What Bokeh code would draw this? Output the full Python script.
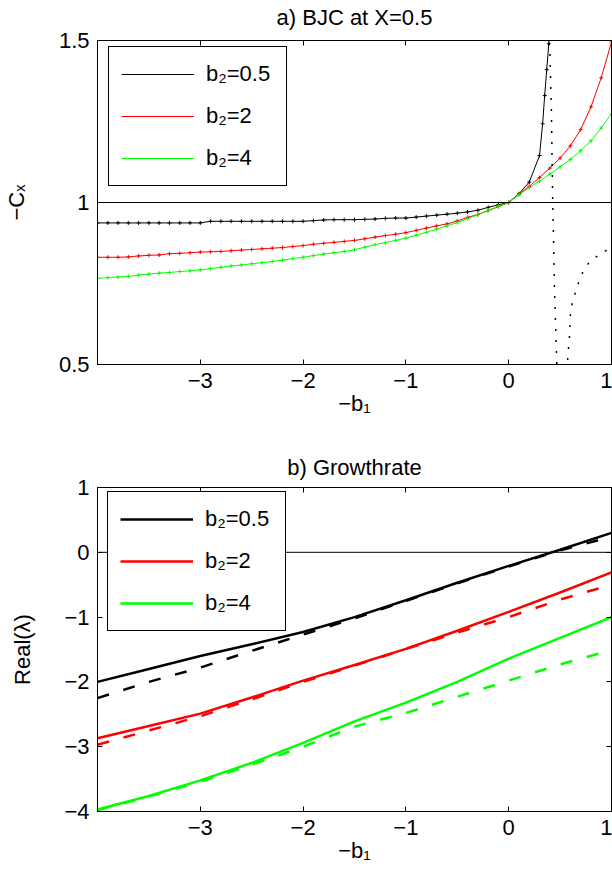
from bokeh.plotting import figure
from bokeh.layouts import column
from bokeh.models import (Range1d, LinearAxis, FixedTicker, Span, Legend,
                          LegendItem)
from bokeh.embed import file_html
from bokeh.resources import INLINE

# ---------------- data: panel a) ----------------
x_top = [-4.0, -3.9, -3.8, -3.7, -3.6, -3.5, -3.4, -3.3, -3.2, -3.1,
         -3.0, -2.9, -2.8, -2.7, -2.6, -2.5, -2.4, -2.3, -2.2, -2.1,
         -2.0, -1.9, -1.8, -1.7, -1.6, -1.5, -1.4, -1.3, -1.2, -1.1,
         -1.0, -0.9, -0.8, -0.7, -0.6, -0.5, -0.4, -0.3, -0.2, -0.1,
         0.0, 0.1, 0.2, 0.3, 0.4, 0.5, 0.6, 0.7, 0.8, 0.9, 1.0]

black_top_x = [-4.0, -3.9, -3.8, -3.7, -3.6, -3.5, -3.4, -3.3, -3.2, -3.1,
               -3.0, -2.9, -2.8, -2.7, -2.6, -2.5, -2.4, -2.3, -2.2, -2.1,
               -2.0, -1.9, -1.8, -1.7, -1.6, -1.5, -1.4, -1.3, -1.2, -1.1,
               -1.0, -0.9, -0.8, -0.7, -0.6, -0.5, -0.4, -0.3, -0.2, -0.1,
               0.0, 0.1, 0.2, 0.3, 0.33, 0.35, 0.37, 0.39, 0.41]
black_top_y = [0.937, 0.937, 0.937, 0.937, 0.937, 0.937, 0.937, 0.937, 0.937, 0.937,
               0.937, 0.942, 0.942, 0.942, 0.942, 0.942, 0.942, 0.942, 0.942, 0.942,
               0.942, 0.944, 0.946, 0.947, 0.947, 0.947, 0.948, 0.949, 0.951, 0.952,
               0.952, 0.955, 0.958, 0.961, 0.964, 0.967, 0.971, 0.976, 0.985, 0.993,
               1.000, 1.027, 1.063, 1.145, 1.243, 1.330, 1.410, 1.490, 1.580]

red_top_y = [0.831, 0.831, 0.831, 0.832, 0.835, 0.837, 0.838, 0.842, 0.843, 0.845,
             0.847, 0.848, 0.849, 0.851, 0.853, 0.855, 0.857, 0.859, 0.861, 0.864,
             0.867, 0.871, 0.874, 0.877, 0.880, 0.883, 0.888, 0.893, 0.898, 0.902,
             0.907, 0.914, 0.921, 0.928, 0.934, 0.943, 0.954, 0.963, 0.975, 0.987,
             1.000, 1.026, 1.050, 1.077, 1.106, 1.137, 1.175, 1.225, 1.295, 1.385, 1.495]

green_top_y = [0.766, 0.768, 0.770, 0.772, 0.776, 0.779, 0.782, 0.784, 0.787, 0.789,
               0.792, 0.796, 0.800, 0.804, 0.807, 0.811, 0.814, 0.818, 0.822, 0.827,
               0.831, 0.836, 0.841, 0.845, 0.849, 0.854, 0.862, 0.870, 0.876, 0.883,
               0.890, 0.899, 0.908, 0.918, 0.928, 0.938, 0.950, 0.962, 0.976, 0.988,
               1.000, 1.024, 1.046, 1.066, 1.088, 1.110, 1.133, 1.160, 1.190, 1.230, 1.274]

dot1_x = [0.385, 0.390, 0.400, 0.416, 0.426, 0.435, 0.445, 0.458, 0.468, 0.470]
dot1_y = [1.560, 1.500, 1.470, 1.275, 1.037, 0.904, 0.738, 0.605, 0.503, 0.480]
dot2_x = [0.570, 0.571, 0.577, 0.587, 0.594, 0.597, 0.603, 0.626, 0.659,
          0.691, 0.733, 0.797, 0.887, 0.974, 1.000]
dot2_y = [0.480, 0.502, 0.535, 0.566, 0.600, 0.634, 0.667, 0.700, 0.732,
          0.764, 0.794, 0.821, 0.840, 0.857, 0.862]

# ---------------- data: panel b) ----------------
x_bot = [-4.0, -3.5, -3.0, -2.5, -2.0, -1.5, -1.0, -0.5, 0.0, 0.5, 1.0]
black_solid = [-2.00, -1.80, -1.60, -1.42, -1.23, -1.00, -0.74, -0.47, -0.21, 0.04, 0.30]
black_dash = [-2.25, -2.00, -1.78, -1.52, -1.27, -1.02, -0.75, -0.48, -0.22, 0.03, 0.24]
red_solid = [-2.87, -2.68, -2.49, -2.24, -1.98, -1.74, -1.49, -1.21, -0.92, -0.62, -0.31]
red_dash = [-2.97, -2.75, -2.53, -2.27, -2.00, -1.75, -1.49, -1.24, -1.00, -0.73, -0.50]
green_solid = [-3.97, -3.76, -3.52, -3.25, -2.94, -2.61, -2.32, -2.00, -1.64, -1.32, -1.00]
green_dash = [-3.98, -3.77, -3.54, -3.28, -3.00, -2.69, -2.48, -2.23, -1.98, -1.73, -1.51]

series_labels = ["b\u2082=0.5", "b\u2082=2", "b\u2082=4"]
x_ticks = [-3, -2, -1, 0, 1]
x_tick_labels = ["\u22123", "\u22122", "\u22121", "0", "1"]
y_ticks_top = [0.5, 1, 1.5]
y_tick_labels_top = ["0.5", "1", "1.5"]
y_ticks_bot = [-4, -3, -2, -1, 0, 1]
y_tick_labels_bot = ["\u22124", "\u22123", "\u22122", "\u22121", "0", "1"]

FONT = "Liberation Sans"
FS = "22px"
BLACK, RED, GREEN = "#000000", "#ff0000", "#00ff00"


def style_axis(ax, ticks, labels=None, label_text=None, label_standoff=0):
    ax.ticker = FixedTicker(ticks=ticks)
    ax.major_tick_in = 5
    ax.major_tick_out = 0
    ax.minor_tick_in = 0
    ax.minor_tick_out = 0
    ax.axis_line_color = "black"
    ax.major_tick_line_color = "black"
    if labels is None:
        ax.major_label_text_font_size = "1px"
        ax.major_label_text_alpha = 0
        ax.major_label_standoff = 0
    else:
        ax.major_label_overrides = {t: l for t, l in zip(ticks, labels)}
        ax.major_label_text_font = FONT
        ax.major_label_text_font_size = FS
        ax.major_label_text_color = "black"
        ax.major_label_standoff = 8
    if label_text is not None:
        ax.axis_label = label_text
        ax.axis_label_text_font = FONT
        ax.axis_label_text_font_size = FS
        ax.axis_label_text_font_style = "normal"
        ax.axis_label_text_color = "black"
        ax.axis_label_standoff = label_standoff


def make_fig(height, btop, bbot, yr, yticks, ylabels, title, title_standoff,
             ylabel, ylabel_standoff):
    p = figure(width=612, height=height, x_range=Range1d(-4, 1),
               y_range=Range1d(*yr), output_backend="svg",
               toolbar_location=None, min_border_left=94,
               min_border_right=1, min_border_top=btop,
               min_border_bottom=bbot)
    p.xgrid.visible = False
    p.ygrid.visible = False
    p.outline_line_color = "black"
    p.outline_line_width = 1
    p.outline_line_alpha = 1
    style_axis(p.xaxis[0], x_ticks, x_tick_labels, "\u2212b\u2081", 0)
    style_axis(p.yaxis[0], yticks, ylabels, ylabel, ylabel_standoff)
    top_ax = LinearAxis()
    style_axis(top_ax, x_ticks, None, title, title_standoff)
    p.add_layout(top_ax, "above")
    right_ax = LinearAxis()
    style_axis(right_ax, yticks)
    p.add_layout(right_ax, "right")
    return p


def add_legend(p, renderers, loc):
    items = [LegendItem(label=l, renderers=[r]) for l, r in zip(series_labels, renderers)]
    lg = Legend(items=items, location=loc, margin=0, padding=12, spacing=12,
                glyph_width=73, glyph_height=30, label_height=30, label_width=68,
                label_standoff=12, label_text_font=FONT, label_text_font_size=FS,
                label_text_color="black",
                border_line_color="black", border_line_width=1, border_line_alpha=1,
                background_fill_color="white", background_fill_alpha=1)
    p.add_layout(lg)


# ---------------- panel a ----------------
p1 = make_fig(440, 40, 76, (0.5, 1.5), y_ticks_top, y_tick_labels_top,
              "a) BJC at X=0.5", 11, "\u2212C\u2093", 27)
p1.add_layout(Span(location=1, dimension="width", line_color="black", line_width=1))
rb = p1.line(black_top_x, black_top_y, line_color=BLACK, line_width=1)
rr = p1.line(x_top, red_top_y, line_color=RED, line_width=1)
rg = p1.line(x_top, green_top_y, line_color=GREEN, line_width=1)
p1.scatter(black_top_x, black_top_y, marker="cross", size=4, line_color=BLACK, line_width=1)
p1.scatter(x_top, red_top_y, marker="cross", size=4, line_color=RED, line_width=1)
p1.scatter(x_top, green_top_y, marker="cross", size=4, line_color=GREEN, line_width=1)
p1.line(dot1_x, dot1_y, line_color=BLACK, line_width=1.5, line_dash="2 9")
p1.line(dot2_x, dot2_y, line_color=BLACK, line_width=1.5, line_dash="2 9")
add_legend(p1, [rb, rr, rg], (11, 178))

# ---------------- panel b ----------------
p2 = make_fig(429, 47, 58, (-4, 1), y_ticks_bot, y_tick_labels_bot,
              "b) Growthrate", 8, "Real(\u03bb)", 26)
p2.add_layout(Span(location=0, dimension="width", line_color="black", line_width=1))
sb = p2.line(x_bot, black_solid, line_color=BLACK, line_width=2.5)
sr = p2.line(x_bot, red_solid, line_color=RED, line_width=2.5)
sg = p2.line(x_bot, green_solid, line_color=GREEN, line_width=2.5)
p2.line(x_bot, black_dash, line_color=BLACK, line_width=2.5, line_dash="12 15")
p2.line(x_bot, red_dash, line_color=RED, line_width=2.5, line_dash="12 15")
p2.line(x_bot, green_dash, line_color=GREEN, line_width=2.5, line_dash="12 15")
add_legend(p2, [sb, sr, sg], (10, 180))

layout = column(p1, p2, spacing=0)
open("out.html", "w").write(file_html(layout, INLINE))
